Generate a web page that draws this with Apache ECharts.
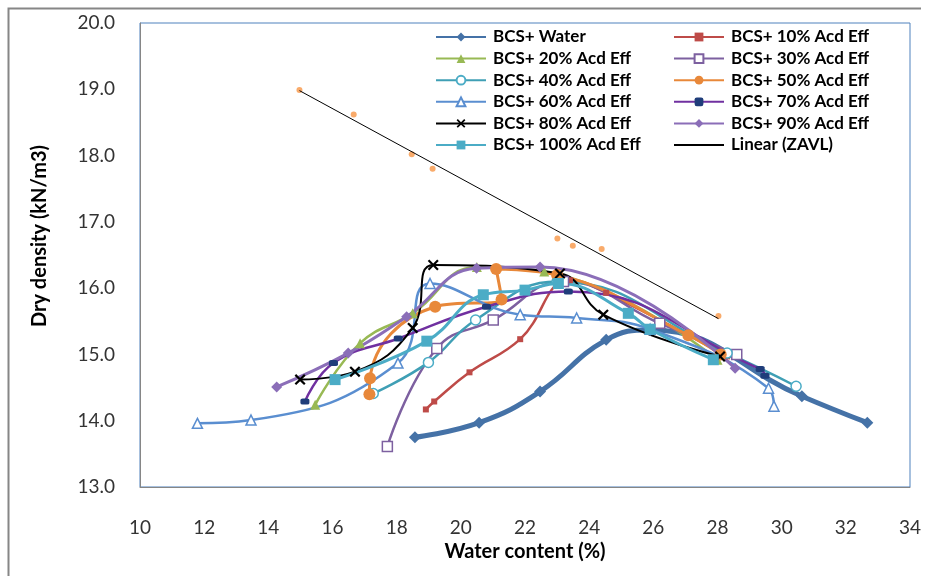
<!DOCTYPE html>
<html>
<head>
<meta charset="utf-8">
<script src="https://cdn.jsdelivr.net/npm/echarts@6/dist/echarts.min.js"></script>
<style>html,body{margin:0;padding:0;background:#fff}#c{width:930px;height:576px}</style>
</head>
<body>
<div id="c"></div>
<script>
// ---- data (water content %, dry density kN/m3) ----
const water  = [[18.57,13.75],[20.57,13.97],[22.47,14.44],[24.53,15.22],[25.9,15.37],[30.63,14.37],[32.67,13.97]];
const acd10  = [[18.91,14.17],[19.17,14.29],[20.27,14.73],[21.85,15.23],[23.4,16.12],[24.53,15.93],[28.3,14.97]];
const acd20  = [[15.46,14.24],[16.86,15.17],[18.5,15.62],[20.5,16.32],[22.6,16.25],[28.0,14.92]];
const acd30  = [[17.71,13.61],[19.25,15.09],[21.01,15.52],[23.2,16.1],[26.2,15.47],[28.6,15.0]];
const acd40  = [[17.27,14.41],[18.99,14.88],[20.46,15.52],[23.0,16.1],[28.3,15.02],[30.45,14.52]];
const acd50  = [[17.15,14.4],[17.17,14.64],[19.2,15.72],[21.27,15.83],[21.1,16.29],[23.0,16.2],[27.09,15.29],[28.1,15.0]];
const acd60  = [[11.79,13.96],[13.46,14.01],[18.04,14.87],[19.04,16.07],[21.85,15.6],[23.61,15.55],[25.9,15.38],[29.59,14.49],[29.76,14.22]];
const acd70  = [[15.14,14.29],[16.03,14.87],[18.05,15.24],[20.8,15.72],[23.35,15.95],[29.33,14.78],[29.48,14.68]];
const acd80  = [[14.99,14.62],[16.7,14.74],[18.5,15.4],[19.14,16.35],[23.09,16.22],[24.44,15.6],[28.08,14.97]];
const acd90  = [[14.26,14.51],[16.49,15.02],[18.31,15.57],[20.49,16.3],[22.47,16.32],[28.55,14.79]];
const acd100 = [[16.08,14.62],[18.94,15.2],[20.7,15.9],[22.0,15.97],[23.04,16.07],[25.22,15.62],[25.9,15.38],[27.87,14.92]];
const zavl   = [[14.97,18.99],[16.66,18.62],[18.47,18.02],[19.12,17.80],[23.01,16.75],[23.49,16.64],[24.39,16.59],[28.03,15.58]];
const zavlLinear = [[14.97,18.98],[28.03,15.54]];

const names = ['BCS+ Water','BCS+ 10% Acd Eff','BCS+ 20% Acd Eff','BCS+ 30% Acd Eff','BCS+ 40% Acd Eff','BCS+ 50% Acd Eff',
  'BCS+ 60% Acd Eff','BCS+ 70% Acd Eff','BCS+ 80% Acd Eff','BCS+ 90% Acd Eff','BCS+ 100% Acd Eff','Linear (ZAVL)'];
const xTicks = {min:10, max:34, step:2};
const yTicks = {min:13, max:20, step:1};

const FONT = 'Lato, "Open Sans", sans-serif';
const X_SYM = 'path://M0,1.4L1.4,0L5,3.6L8.6,0L10,1.4L6.4,5L10,8.6L8.6,10L5,6.4L1.4,10L0,8.6L3.6,5Z';

function ln(name, data, color, width, symbol, size, extra) {
  const s = {
    name, type:'line', data, smooth:0.45, showAllSymbol:true,
    symbol, symbolSize:size,
    lineStyle:{color, width},
    itemStyle:{color},
    emphasis:{disabled:true}
  };
  return Object.assign(s, extra || {});
}

const series = [
  ln(names[0], water, '#4572A7', 5, 'diamond', 12),
  ln(names[1], acd10, '#BE4B48', 2.5, 'rect', 6),
  ln(names[2], acd20, '#98B954', 2.5, 'triangle', 10),
  ln(names[3], acd30, '#7D60A0', 2.5, 'rect', 10, {itemStyle:{color:'#fff', borderColor:'#7D60A0', borderWidth:1.5}}),
  ln(names[4], acd40, '#3F9FB5', 2.5, 'circle', 10, {itemStyle:{color:'#fff', borderColor:'#4BACC6', borderWidth:1.5}}),
  ln(names[5], acd50, '#E8883A', 3, 'circle', 12),
  ln(names[6], acd60, '#5A8ED0', 2.5, 'triangle', 10, {itemStyle:{color:'#fff', borderColor:'#5A8ED0', borderWidth:1.5}}),
  ln(names[7], acd70, '#7030A0', 2.5, 'roundRect', [9,6], {itemStyle:{color:'#1F3D7A'}}),
  ln(names[8], acd80, '#000000', 2, X_SYM, 11),
  ln(names[9], acd90, '#8B6EB8', 3, 'diamond', 11),
  ln(names[10], acd100, '#4BACC6', 3, 'rect', 11),
  {name:'ZAVL', type:'scatter', data:zavl, symbol:'circle', symbolSize:6, itemStyle:{color:'#F79646'}, emphasis:{disabled:true}},
  {name:names[11], type:'line', data:zavlLinear, symbol:'circle', showSymbol:false, symbolSize:0,
   lineStyle:{color:'#000', width:1}, itemStyle:{color:'rgba(0,0,0,0)', borderWidth:0}, emphasis:{disabled:true}}
];

const legendBase = {
  orient:'vertical', itemWidth:50, itemHeight:11, itemGap:4.6,
  textStyle:{fontFamily:FONT, fontSize:17, fontWeight:'bold', color:'#000', padding:[0,0,0,2]},
  selectedMode:false
};

const chart = echarts.init(document.getElementById('c'), null, {renderer:'canvas'});
chart.setOption({
  animation:false,
  backgroundColor:'#fff',
  grid:{left:140, right:20, top:23, bottom:89, show:true, borderColor:'#4F81BD', borderWidth:1},
  legend:[
    Object.assign({}, legendBase, {left:430, top:23.5, data:[names[0],names[2],names[4],names[6],names[8],names[10]]}),
    Object.assign({}, legendBase, {left:668, top:23.5, data:[names[1],names[3],names[5],names[7],names[9],names[11]]})
  ],
  xAxis:{
    type:'value', min:xTicks.min, max:xTicks.max, interval:xTicks.step,
    name:'Water content (%)', nameLocation:'middle', nameGap:52,
    nameTextStyle:{fontFamily:FONT, fontSize:20, fontWeight:'bold', color:'#000'},
    axisLine:{show:true, onZero:false, lineStyle:{color:'#868686', width:1}},
    axisTick:{show:false}, splitLine:{show:false},
    axisLabel:{margin:31, fontFamily:FONT, fontSize:19, color:'#333'}
  },
  yAxis:{
    type:'value', min:yTicks.min, max:yTicks.max, interval:yTicks.step,
    axisLine:{show:true, onZero:false, lineStyle:{color:'#868686', width:1}},
    axisTick:{show:false}, splitLine:{show:false},
    axisLabel:{margin:25, fontFamily:FONT, fontSize:19, color:'#333', formatter:v=>v.toFixed(1)}
  },
  graphic:[
    {type:'polyline', shape:{points:[[921,8.5],[8.5,8.5],[8.5,576]]}, style:{stroke:'#868686', lineWidth:2, fill:null}, silent:true},
    {type:'text', x:40, y:236, rotation:Math.PI/2,
     style:{text:'Dry density (kN/m3)', font:'bold 20px '+FONT, fill:'#000', textAlign:'center', textVerticalAlign:'middle'}, silent:true}
  ],
  series
});
</script>
</body>
</html>
